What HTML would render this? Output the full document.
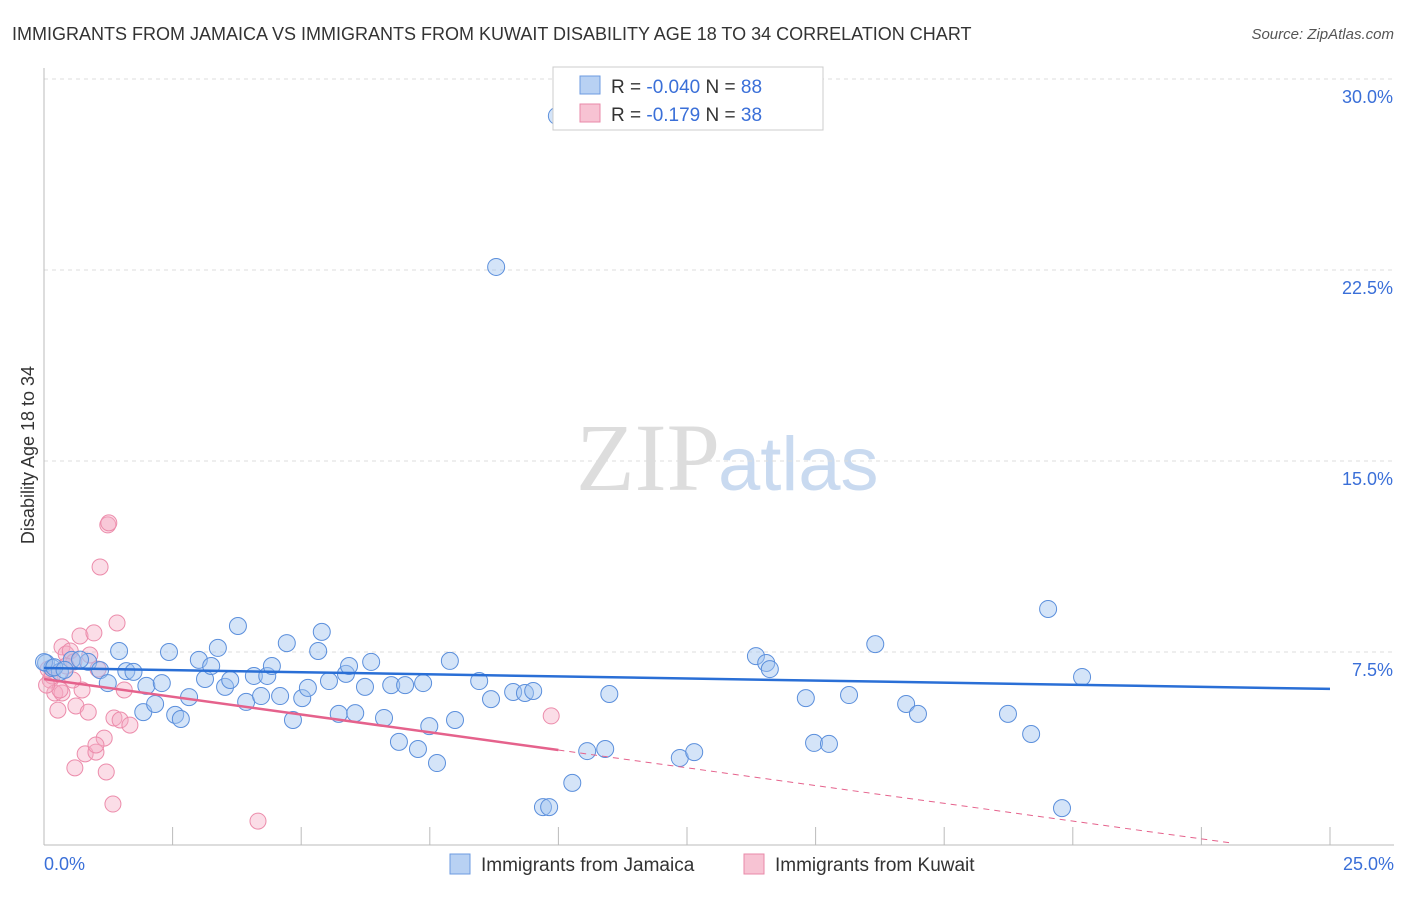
<!DOCTYPE html>
<html><head><meta charset="utf-8"><style>
body{margin:0;background:#fff;font-family:"Liberation Sans",sans-serif;}
</style></head><body>
<svg width="1406" height="892" xmlns="http://www.w3.org/2000/svg" font-family="Liberation Sans, sans-serif">
<text x="12" y="40" font-size="18" fill="#333">IMMIGRANTS FROM JAMAICA VS IMMIGRANTS FROM KUWAIT DISABILITY AGE 18 TO 34 CORRELATION CHART</text>
<text x="1394" y="39" font-size="15" fill="#555" font-style="italic" text-anchor="end">Source: ZipAtlas.com</text>
<text x="720" y="490" font-size="96" fill="#ddd" font-family="Liberation Serif, serif" text-anchor="end">ZIP</text>
<text x="718" y="490" font-size="76" fill="#c9daf0">atlas</text>
<g id="grid"></g><g id="axes"></g><g id="pts"></g><g id="lines"></g>
<text transform="translate(34,455) rotate(-90)" font-size="18" fill="#333" text-anchor="middle">Disability Age 18 to 34</text>
<text x="44" y="870" font-size="18" fill="#3a6fd8">0.0%</text>
<text x="1394" y="870" font-size="18" fill="#3a6fd8" text-anchor="end">25.0%</text>
<g>
<rect x="553" y="67" width="270" height="63" fill="#fff" stroke="#ccc"/>
<rect x="580" y="76" width="20" height="18" fill="#b8d1f3" stroke="#6d9be0"/>
<rect x="580" y="104" width="20" height="18" fill="#f7c3d3" stroke="#e88aa8"/>
<text x="611" y="93" font-size="19" fill="#333">R = <tspan fill="#3a6fd8">-0.040</tspan>   N = <tspan fill="#3a6fd8">88</tspan></text>
<text x="611" y="121" font-size="19" fill="#333">R =  <tspan fill="#3a6fd8"> -0.179</tspan>   N = <tspan fill="#3a6fd8">38</tspan></text>
</g>
<g>
<rect x="450" y="854" width="20" height="20" fill="#b8d1f3" stroke="#6d9be0"/>
<text x="481" y="871" font-size="19" fill="#333">Immigrants from Jamaica</text>
<rect x="744" y="854" width="20" height="20" fill="#f7c3d3" stroke="#e88aa8"/>
<text x="775" y="871" font-size="19" fill="#333">Immigrants from Kuwait</text>
</g>
</svg>
<script>
const yTicks=[7.5,15,22.5,30];
const yTickLabels=["7.5%","15.0%","22.5%","30.0%"];
const xTicks=[0,2.5,5,7.5,10,12.5,15,17.5,20,22.5,25];
const jamX=[9.97,8.79,0.04,0.16,0.31,0.54,0.86,1.09,1.24,1.46,1.60,1.74,1.99,1.93,2.16,2.29,2.43,2.55,2.66,2.82,3.01,3.13,3.25,3.38,3.52,3.62,3.77,3.93,4.08,4.22,4.34,4.43,4.59,4.72,4.84,5.02,5.13,5.33,5.40,5.54,5.73,5.87,5.93,6.05,6.24,6.36,6.61,6.75,6.90,7.02,7.27,7.37,7.49,7.64,7.89,7.99,8.46,8.69,9.12,9.35,9.51,9.70,9.82,10.27,10.56,10.91,10.99,12.36,12.64,13.84,14.04,14.11,14.81,14.97,15.26,15.65,16.16,16.76,16.99,18.74,19.19,19.52,19.79,20.18,0.0,0.2,0.7,0.4];
const jamY=[28.55,22.62,7.07,6.87,6.72,7.19,7.11,6.79,6.28,7.54,6.75,6.72,6.17,5.14,5.46,6.28,7.50,5.03,4.87,5.73,7.19,6.44,6.95,7.66,6.13,6.40,8.52,5.54,6.56,5.77,6.56,6.95,5.77,7.85,4.83,5.69,6.09,7.54,8.29,6.36,5.07,6.64,6.95,5.10,6.13,7.11,4.91,6.20,3.97,6.20,3.69,6.28,4.59,3.14,7.15,4.83,6.36,5.65,5.93,5.89,5.97,1.41,1.41,2.36,3.61,3.69,5.85,3.34,3.57,7.34,7.07,6.83,5.69,3.93,3.89,5.81,7.81,5.46,5.07,5.07,4.28,9.19,1.37,6.52,7.1,6.9,7.2,6.8];
const kuwX=[0.08,0.12,0.21,0.27,0.35,0.43,0.51,0.58,0.62,0.70,0.74,0.86,0.89,0.97,0.35,0.56,0.60,0.80,1.01,1.05,1.17,1.21,1.24,1.26,1.09,1.34,1.36,1.42,1.48,1.56,1.67,4.16,9.86,1.01,0.31,0.16,0.43,0.05];
const kuwY=[6.83,6.40,5.89,5.22,7.70,7.42,7.54,7.11,5.38,8.13,6.01,5.14,7.38,8.25,5.89,6.40,2.95,3.50,3.57,6.83,4.12,2.79,12.49,12.57,10.84,1.53,4.91,8.64,4.83,6.01,4.63,0.86,4.99,3.85,6.01,6.56,6.95,6.2];
const jamLine=[6.87,6.05];   // y at x=0 and x=25
const kuwLine=[6.44,-0.279]; // intercept, slope
const kuwSolidEnd=10, kuwDashEnd=23.1;
const sx=v=>44+v/25*1286, sy=v=>843-v/7.5*191;
const NS="http://www.w3.org/2000/svg";
function mk(t,a,p){const e=document.createElementNS(NS,t);for(const k in a)e.setAttribute(k,a[k]);p.appendChild(e);return e;}
const G=document.getElementById('grid'),A=document.getElementById('axes'),P=document.getElementById('pts'),L=document.getElementById('lines');
yTicks.forEach((t,i)=>{const g=mk('line',{x1:44,x2:1394,y1:sy(t),y2:sy(t),stroke:'#ddd','stroke-dasharray':'4,4'},G);

const tx=mk('text',{x:1393,y:sy(t)+24,'font-size':18,fill:'#3a6fd8','text-anchor':'end'},G);tx.textContent=yTickLabels[i];
});
const ax=mk('line',{x1:44,x2:44,y1:68,y2:845,stroke:'#bbb'},A);
const bx=mk('line',{x1:44,x2:1394,y1:845,y2:845,stroke:'#bbb'},A);
xTicks.forEach(t=>{const e=mk('line',{x1:sx(t),x2:sx(t),y1:827,y2:845,stroke:'#bbb'},A);});
kuwX.forEach((x,i)=>{const c=mk('circle',{cx:sx(x),cy:sy(kuwY[i]),r:8,fill:'rgba(245,170,195,0.4)',stroke:'#ec8cab','stroke-width':1},P);
});
jamX.forEach((x,i)=>{const c=mk('circle',{cx:sx(x),cy:sy(jamY[i]),r:8.5,fill:'rgba(160,195,240,0.45)',stroke:'#5b8fdc','stroke-width':1},P);
});
const l1=mk('line',{x1:sx(0),y1:sy(jamLine[0]),x2:sx(25),y2:sy(jamLine[1]),stroke:'#2a6fd6','stroke-width':2.5},L);

const l2=mk('line',{x1:sx(0),y1:sy(kuwLine[0]),x2:sx(kuwSolidEnd),y2:sy(kuwLine[0]+kuwLine[1]*kuwSolidEnd),stroke:'#e5628c','stroke-width':2.5},L);

const l3=mk('line',{x1:sx(kuwSolidEnd),y1:sy(kuwLine[0]+kuwLine[1]*kuwSolidEnd),x2:sx(kuwDashEnd),y2:sy(kuwLine[0]+kuwLine[1]*kuwDashEnd),stroke:'#e5628c','stroke-width':1,'stroke-dasharray':'6,5'},L);

</script>
</body></html>
